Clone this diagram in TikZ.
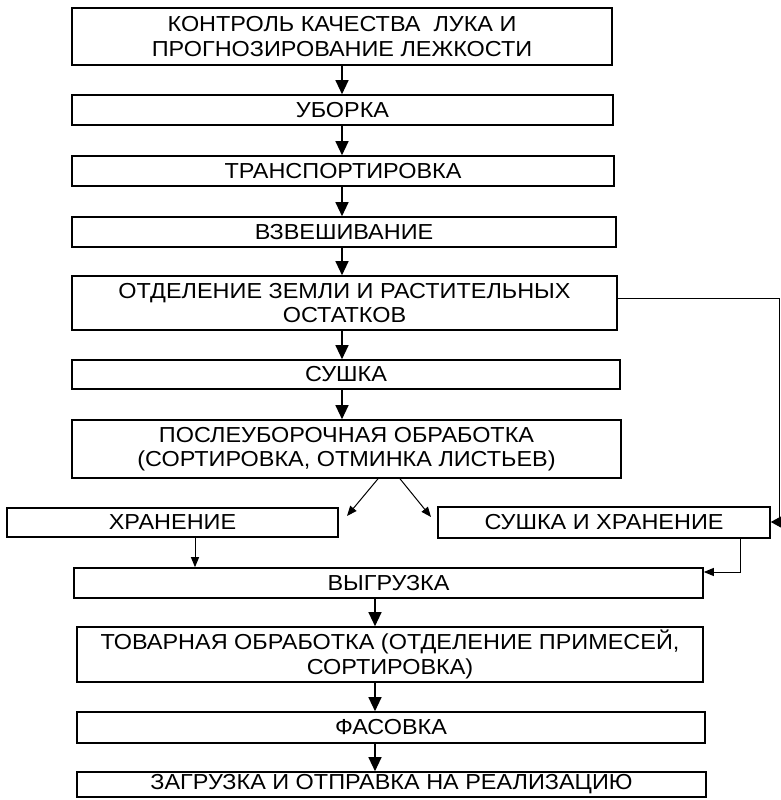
\documentclass[tikz,border=0pt]{standalone}
\usepackage{fontspec}
\setmainfont{Liberation Sans}
\newfontfamily\boxfont[FakeStretch=1.08]{Liberation Sans}
\usetikzlibrary{arrows.meta}
\begin{document}
\begin{tikzpicture}[x=1pt,y=-1pt,
  box/.style={draw, line width=1.6pt, inner sep=0pt, align=center, font=\boxfont\fontsize{21.7}{24.5}\selectfont},
  arr/.style={line width=1.2pt, -{Triangle[length=14pt,width=13pt]}},
  sarr/.style={line width=1pt, -{Triangle[length=10pt,width=8pt]}},
  larr/.style={line width=0.9pt, -{Triangle[length=13pt,width=14pt]}}]
\useasboundingbox (0,0) rectangle (781,800);
\node[box, minimum width=540pt, minimum height=57pt] (b1) at (342,36.5) {КОНТРОЛЬ КАЧЕСТВА\ \ ЛУКА И\\ПРОГНОЗИРОВАНИЕ ЛЕЖКОСТИ};
\node[box, minimum width=541pt, minimum height=30pt] (b2) at (342.5,110) {УБОРКА};
\node[box, minimum width=542pt, minimum height=30pt] (b3) at (343,171) {ТРАНСПОРТИРОВКА};
\node[box, minimum width=544pt, minimum height=30pt] (b4) at (344,232) {ВЗВЕШИВАНИЕ};
\node[box, minimum width=545pt, minimum height=54pt] (b5) at (344.5,303) {ОТДЕЛЕНИЕ ЗЕМЛИ И РАСТИТЕЛЬНЫХ\\ОСТАТКОВ};
\node[box, minimum width=548pt, minimum height=29pt] (b6) at (346,374.5) {СУШКА};
\node[box, minimum width=549pt, minimum height=58pt] (b7) at (346.5,449) {ПОСЛЕУБОРОЧНАЯ ОБРАБОТКА\\(СОРТИРОВКА, ОТМИНКА ЛИСТЬЕВ)};
\node[box, minimum width=331pt, minimum height=29pt] (b8) at (172.5,522.5) {ХРАНЕНИЕ};
\node[box, minimum width=332pt, minimum height=31pt] (b9) at (604,522.5) {СУШКА И ХРАНЕНИЕ};
\node[box, minimum width=629pt, minimum height=30pt] (b10) at (388.5,583) {ВЫГРУЗКА};
\node[box, minimum width=626pt, minimum height=55pt] (b11) at (390,654.5) {ТОВАРНАЯ ОБРАБОТКА (ОТДЕЛЕНИЕ ПРИМЕСЕЙ,\\СОРТИРОВКА)};
\node[box, minimum width=628pt, minimum height=31pt] (b12) at (391,727.5) {ФАСОВКА};
\node[box, minimum width=629pt, minimum height=25pt] (b13) at (391.5,784.5) {ЗАГРУЗКА И ОТПРАВКА НА РЕАЛИЗАЦИЮ};
\coordinate (u) at (342,0);
\coordinate (l) at (375,0);
\coordinate (h) at (195,0);
\coordinate (d1) at (378,0);
\coordinate (d2) at (400,0);
\coordinate (t1) at (347,516);
\coordinate (t2) at (431,517);
\coordinate (c2) at (740,572);
\coordinate (r1) at (779,298);
\coordinate (r2) at (779,522);
\draw[arr] (b1.south -| u) -- (b2.north -| u);
\draw[arr] (b2.south -| u) -- (b3.north -| u);
\draw[arr] (b3.south -| u) -- (b4.north -| u);
\draw[arr] (b4.south -| u) -- (b5.north -| u);
\draw[arr] (b5.south -| u) -- (b6.north -| u);
\draw[arr] (b6.south -| u) -- (b7.north -| u);
\draw[sarr] (b7.south -| d1) -- (t1);
\draw[sarr] (b7.south -| d2) -- (t2);
\draw[sarr] (b8.south -| h) -- (b10.north -| h);
\draw[sarr] (b9.south -| c2) -- (c2) -- (b10.east |- c2);
\draw[larr] (b5.east |- r1) -- (r1) -- (r2) -- (b9.east |- r2);
\draw[arr] (b10.south -| l) -- (b11.north -| l);
\draw[arr] (b11.south -| l) -- (b12.north -| l);
\draw[arr] (b12.south -| l) -- (b13.north -| l);
\end{tikzpicture}
\end{document}
